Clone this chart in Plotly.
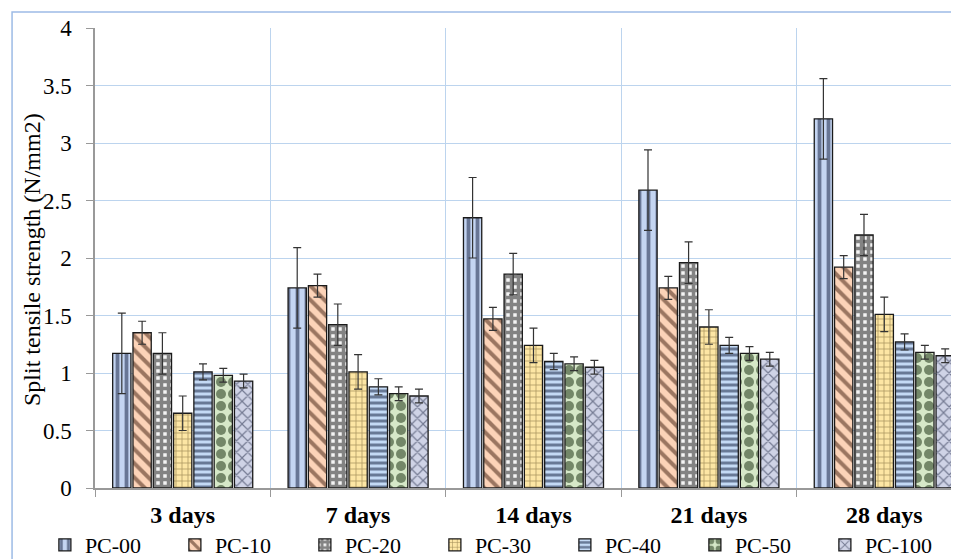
import plotly.graph_objects as go

categories = ["3 days", "7 days", "14 days", "21 days", "28 days"]
series_names = ["PC-00", "PC-10", "PC-20", "PC-30", "PC-40", "PC-50", "PC-100"]
pc00 = [1.17, 1.74, 2.35, 2.59, 3.21]
pc10 = [1.35, 1.76, 1.47, 1.74, 1.92]
pc20 = [1.17, 1.42, 1.86, 1.96, 2.20]
pc30 = [0.65, 1.01, 1.24, 1.40, 1.51]
pc40 = [1.01, 0.88, 1.10, 1.24, 1.27]
pc50 = [0.98, 0.82, 1.08, 1.17, 1.18]
pc100 = [0.93, 0.80, 1.05, 1.12, 1.15]
errors = [0.35, 0.10, 0.18, 0.15, 0.07, 0.06, 0.06]
values = [pc00, pc10, pc20, pc30, pc40, pc50, pc100]
y_title = "Split tensile strength (N/mm2)"

styles = [
    dict(shape="|", fg="#0b1838", bg="#c4d5f2", size=9, sol=0.42),
    dict(shape="\\", fg="#3a1a0a", bg="#fcd3b8", size=10, sol=0.4),
    dict(shape="+", fg="#111111", bg="#f4f4f4", size=7, sol=0.75),
    dict(shape="+", fg="#4a3a10", bg="#fde6a4", size=6, sol=0.22),
    dict(shape="-", fg="#0b1838", bg="#c4daf5", size=6, sol=0.5),
    dict(shape=".", fg="#0f2608", bg="#d6e8c8", size=12, sol=0.55),
    dict(shape="x", fg="#1c2440", bg="#cfd3e6", size=8, sol=0.28),
]

FONT = "Liberation Serif"
fig = go.Figure()
for name, vals, err, st in zip(series_names, values, errors, styles):
    fig.add_trace(go.Bar(
        name=name, x=categories, y=vals,
        marker=dict(
            color=st["bg"],
            line=dict(color="#1a1a1a", width=1.3),
            pattern=dict(shape=st["shape"], fgcolor=st["fg"], bgcolor=st["bg"],
                         size=st["size"], solidity=st["sol"], fillmode="overlay"),
        ),
        error_y=dict(type="constant", value=err, color="#333333", thickness=1.2, width=4),
    ))

# page body has an 8px margin: figure-pixel = window-pixel - 8
fig.update_layout(
    width=959, height=559,
    margin=dict(l=87, r=8, t=20, b=79, autoexpand=False),
    plot_bgcolor="white", paper_bgcolor="white",
    barmode="group", bargap=0.19, bargroupgap=0.1,
    font=dict(family=FONT, color="#000000", size=18),
    showlegend=True,
    legend=dict(orientation="h", xref="paper", yref="paper",
                x=-0.058, y=-0.124, xanchor="left", yanchor="middle",
                font=dict(family=FONT, size=22, color="#000000"),
                entrywidth=85, entrywidthmode="pixels",
                itemwidth=30, tracegroupgap=0, bgcolor="rgba(0,0,0,0)"),
    shapes=[dict(type="rect", xref="paper", yref="paper",
                 x0=-0.096, x1=1.2, y0=-0.3, y1=1.0348,
                 line=dict(color="#9dbbe6", width=1.5), fillcolor="rgba(0,0,0,0)",
                 layer="below")],
    annotations=[dict(text=y_title, xref="paper", yref="paper", x=-0.0729, y=0.4957,
                      xanchor="center", yanchor="middle", textangle=-90, showarrow=False,
                      font=dict(family=FONT, size=24, color="#000000"))],
)
fig.update_xaxes(
    range=[-0.5, 4.426], tickson="boundaries", showgrid=True, gridcolor="#bcd4ee",
    gridwidth=1, showline=True, linecolor="#999999", linewidth=2,
    ticks="outside", ticklen=7, tickcolor="#999999", automargin=False,
    ticklabelstandoff=4,
    tickfont=dict(family=FONT, size=24, weight="bold"),
)
fig.update_yaxes(
    range=[0, 4], dtick=0.5, showgrid=True, gridcolor="#bcd4ee", gridwidth=1,
    showline=True, linecolor="#999999", linewidth=1.5, automargin=False,
    ticks="outside", ticklen=7, tickcolor="#999999", ticklabelstandoff=10,
    tickfont=dict(family=FONT, size=23),
    zeroline=False,
)
fig.write_html("out.html")
